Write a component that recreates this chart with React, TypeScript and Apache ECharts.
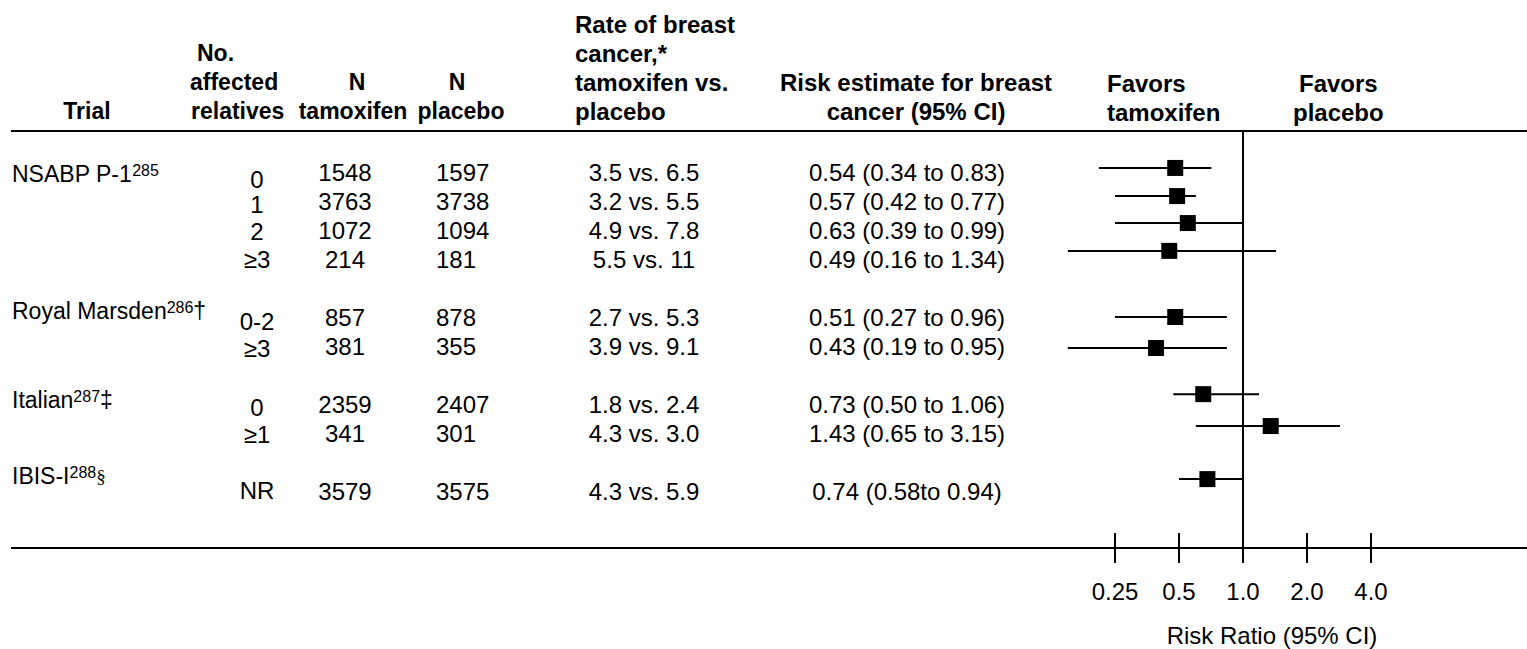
import React, { useEffect, useRef } from "react";
import * as echarts from "echarts";

// ---------- data ----------
const trialNames = ["NSABP P-1", "Royal Marsden", "Italian", "IBIS-I"];
const trialRefs = ["285", "286", "287", "288"];
const trialMarks = ["", "†", "‡", "§"];

const affectedRelatives = ["0", "1", "2", "≥3", "0-2", "≥3", "0", "≥1", "NR"];
const nTamoxifen = ["1548", "3763", "1072", "214", "857", "381", "2359", "341", "3579"];
const nPlacebo = ["1597", "3738", "1094", "181", "878", "355", "2407", "301", "3575"];
const rateTamoxifen = ["3.5", "3.2", "4.9", "5.5", "2.7", "3.9", "1.8", "4.3", "4.3"];
const ratePlacebo = ["6.5", "5.5", "7.8", "11", "5.3", "9.1", "2.4", "3.0", "5.9"];
const riskEstimate = ["0.54", "0.57", "0.63", "0.49", "0.51", "0.43", "0.73", "1.43", "0.74"];
const riskLow = ["0.34", "0.42", "0.39", "0.16", "0.27", "0.19", "0.50", "0.65", "0.58"];
const riskHigh = ["0.83", "0.77", "0.99", "1.34", "0.96", "0.95", "1.06", "3.15", "0.94"];
const riskSep = [" to ", " to ", " to ", " to ", " to ", " to ", " to ", " to ", "to "];

// values as drawn in the forest plot
const plotPoint = [0.48, 0.49, 0.55, 0.45, 0.48, 0.39, 0.65, 1.35, 0.68];
const plotLow = [0.21, 0.25, 0.25, 0.15, 0.25, 0.15, 0.47, 0.6, 0.5];
const plotHigh = [0.71, 0.6, 1.0, 1.43, 0.84, 0.84, 1.19, 2.86, 1.0];
// vertical position of each drawn row, in table-row units
const plotRow = [-0.14, 0.83, 1.76, 2.72, 5.0, 6.07, 7.66, 8.76, 10.59];
// table row slot of each data row
const tableRow = [0, 1, 2, 3, 5, 6, 8, 9, 11];

const axisTicks = [0.25, 0.5, 1, 2, 4];
const axisTickLabels = ["0.25", "0.5", "1.0", "2.0", "4.0"];

// ---------- layout ----------
const W = 1527;
const H = 649;
const FONT = '"Liberation Sans", Arial, Helvetica, sans-serif';
const ROW0 = 172;
const ROW_H = 29;
const HEADER_LINE_Y = 131;
const AXIS_Y = 548;
const LINE_X0 = 11;
const PLOT_LEFT = 1115;
const PLOT_RIGHT = 1371;
const BODY_SIZE = 24;
const NAME_SIZE = 23;
const HEAD_SMALL = 23;
const HEAD_LARGE = 24;
const affectedDy = [7, 3, 1, 0, 4, 2, 3, 1, -1];
const trialY = [174, 311, 400, 476];

const slotY = (k: number) => ROW0 + ROW_H * k;

function txt(text: string, x: number, y: number, opts: any = {}) {
  return {
    type: "text",
    x,
    y,
    silent: true,
    style: {
      text,
      fill: "#000",
      fontFamily: FONT,
      fontSize: opts.size ?? BODY_SIZE,
      fontWeight: opts.bold ? "bold" : "normal",
      textAlign: opts.align ?? "left",
      textVerticalAlign: "middle",
      ...(opts.rich ? { rich: opts.rich } : {}),
    },
  };
}

function buildGraphic() {
  const els: any[] = [];
  const hs = { bold: true, size: HEAD_SMALL };
  const hl = { bold: true, size: HEAD_LARGE };
  // header
  els.push(txt("Trial", 87, 111, { ...hs, align: "center" }));
  els.push(txt("No.", 197, 53, hs));
  els.push(txt("affected", 190, 82, hs));
  els.push(txt("relatives", 191, 111, hs));
  els.push(txt("N", 357, 82, { ...hs, align: "center" }));
  els.push(txt("tamoxifen", 353, 111, { ...hs, align: "center" }));
  els.push(txt("N", 457, 82, { ...hs, align: "center" }));
  els.push(txt("placebo", 461, 111, { ...hs, align: "center" }));
  els.push(txt("Rate of breast", 575, 24, hl));
  els.push(txt("cancer,*", 575, 53, hl));
  els.push(txt("tamoxifen vs.", 575, 82, hl));
  els.push(txt("placebo", 575, 111, hl));
  els.push(txt("Risk estimate for breast", 916, 82, { ...hl, align: "center" }));
  els.push(txt("cancer (95% CI)", 916, 111, { ...hl, align: "center" }));
  els.push(txt("Favors", 1107, 83, hl));
  els.push(txt("tamoxifen", 1107, 112, hl));
  els.push(txt("Favors", 1299, 83, hl));
  els.push(txt("placebo", 1293, 112, hl));

  // rules
  els.push({
    type: "line",
    silent: true,
    shape: { x1: LINE_X0, y1: HEADER_LINE_Y, x2: W, y2: HEADER_LINE_Y },
    style: { stroke: "#000", lineWidth: 2 },
  });
  els.push({
    type: "line",
    silent: true,
    shape: { x1: LINE_X0, y1: AXIS_Y, x2: W, y2: AXIS_Y },
    style: { stroke: "#000", lineWidth: 2 },
  });

  // trial names
  trialNames.forEach((name, i) => {
    const mark = trialMarks[i];
    const markStyle = mark === "§" ? "g" : "m";
    els.push(
      txt(`{n|${name}}{s|${trialRefs[i]}}{${markStyle}|${mark}}`, 12, trialY[i], {
        size: NAME_SIZE,
        rich: {
          n: { fontSize: NAME_SIZE, fontFamily: FONT, fill: "#000" },
          s: { fontSize: 16, fontFamily: FONT, fill: "#000", verticalAlign: "top" },
          m: { fontSize: NAME_SIZE, fontFamily: FONT, fill: "#000" },
          g: { fontSize: 19, fontFamily: '"Liberation Serif", "Times New Roman", serif', fill: "#000" },
        },
      })
    );
  });

  // body rows
  for (let i = 0; i < tableRow.length; i++) {
    const y = slotY(tableRow[i]);
    els.push(txt(affectedRelatives[i], 257, y + affectedDy[i], { align: "center" }));
    els.push(txt(nTamoxifen[i], 345, y, { align: "center" }));
    els.push(txt(nPlacebo[i], 436, y));
    els.push(txt(`${rateTamoxifen[i]} vs. ${ratePlacebo[i]}`, 644, y, { align: "center" }));
    els.push(
      txt(`${riskEstimate[i]} (${riskLow[i]}${riskSep[i]}${riskHigh[i]})`, 907, y, { align: "center" })
    );
  }

  // axis title
  els.push(txt("Risk Ratio (95% CI)", 1272, 635, { align: "center" }));
  return els;
}

export default function App() {
  const ref = useRef<HTMLDivElement>(null);
  useEffect(() => {
    document.body.style.margin = "0";
    if (!ref.current) return;
    const chart = echarts.init(ref.current, undefined, { renderer: "svg", width: W, height: H });

    const data = plotPoint.map((p, i) => [p, plotLow[i], plotHigh[i], plotRow[i]]);
    const labelFor = (v: number) => {
      const idx = axisTicks.findIndex((t) => Math.abs(t - v) < 1e-3);
      return idx >= 0 ? axisTickLabels[idx] : "";
    };
    const tickLine = { color: "#000", width: 2 };

    const option: any = {
      animation: false,
      backgroundColor: "#fff",
      grid: {
        left: PLOT_LEFT,
        width: PLOT_RIGHT - PLOT_LEFT,
        top: HEADER_LINE_Y,
        height: AXIS_Y - HEADER_LINE_Y,
        containLabel: false,
      },
      xAxis: [
        {
          type: "log",
          logBase: 2,
          min: axisTicks[0],
          max: axisTicks[axisTicks.length - 1],
          position: "bottom",
          axisLine: { show: false, onZero: false },
          splitLine: { show: false },
          axisTick: { show: true, inside: false, length: 15, lineStyle: tickLine },
          axisLabel: {
            show: true,
            margin: 31,
            fontSize: 24,
            fontFamily: FONT,
            color: "#000",
            formatter: (v: number) => labelFor(v),
          },
        },
        {
          type: "log",
          logBase: 2,
          min: axisTicks[0],
          max: axisTicks[axisTicks.length - 1],
          position: "bottom",
          axisLine: { show: false, onZero: false },
          splitLine: { show: false },
          axisTick: { show: true, inside: true, length: 15, lineStyle: tickLine },
          axisLabel: { show: false },
        },
      ],
      yAxis: {
        type: "value",
        inverse: true,
        min: (HEADER_LINE_Y - ROW0) / ROW_H,
        max: (AXIS_Y - ROW0) / ROW_H,
        show: false,
      },
      series: [
        {
          type: "custom",
          xAxisIndex: 0,
          yAxisIndex: 0,
          clip: false,
          encode: { x: [0, 1, 2], y: 3 },
          data,
          renderItem: (_params: any, api: any) => {
            const row = api.value(3);
            const pt = api.coord([api.value(0), row]);
            const lo = api.coord([api.value(1), row]);
            const hi = api.coord([api.value(2), row]);
            const s = 16;
            return {
              type: "group",
              children: [
                {
                  type: "line",
                  shape: { x1: lo[0], y1: lo[1], x2: hi[0], y2: hi[1] },
                  style: { stroke: "#000", lineWidth: 2 },
                },
                {
                  type: "rect",
                  shape: { x: pt[0] - s / 2, y: pt[1] - s / 2, width: s, height: s },
                  style: { fill: "#000" },
                },
              ],
            };
          },
          markLine: {
            silent: true,
            symbol: ["none", "none"],
            label: { show: false },
            lineStyle: { color: "#000", width: 2, type: "solid" },
            data: [{ xAxis: 1 }],
          },
        },
      ],
      graphic: buildGraphic(),
    };
    chart.setOption(option);
    return () => chart.dispose();
  }, []);
  return <div ref={ref} style={{ width: W, height: H }} />;
}
